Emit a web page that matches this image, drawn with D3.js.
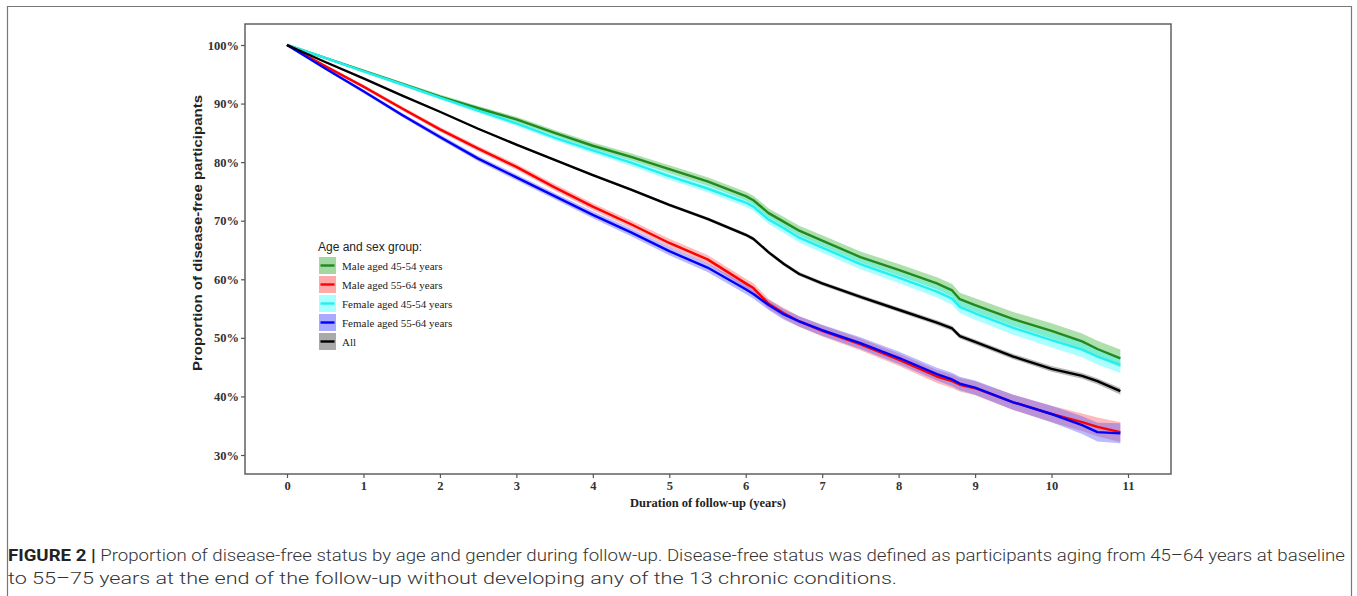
<!DOCTYPE html>
<html>
<head>
<meta charset="utf-8">
<script src="https://cdn.jsdelivr.net/npm/d3@7"></script>
<style>
  html, body { margin: 0; padding: 0; background: #fff; }
  svg { display: block; }
</style>
</head>
<body>
<svg id="chart" width="1357" height="596"></svg>
<script>
// ---------- DATA ----------
const years = [0, 0.5, 1, 1.5, 2, 2.5, 3, 3.5, 4, 4.5, 5, 5.5, 6, 6.1, 6.3, 6.5, 6.7, 7, 7.5, 8, 8.5, 8.7, 8.8, 9, 9.5, 10, 10.4, 10.6, 10.9];

const male4554   = [100, 97.8, 95.6, 93.4, 91.2, 89.2, 87.3, 85.0, 82.8, 80.9, 78.8, 76.7, 74.2, 73.5, 71.3, 69.8, 68.3, 66.6, 63.8, 61.6, 59.3, 58.1, 56.6, 55.6, 53.2, 51.2, 49.4, 48.1, 46.5];
const male5564   = [100, 96.4, 92.9, 89.2, 85.6, 82.3, 79.2, 75.7, 72.4, 69.4, 66.2, 63.4, 59.3, 58.5, 55.8, 54.2, 52.8, 51.2, 48.9, 46.3, 43.4, 42.6, 42.0, 41.4, 39.0, 37.0, 35.6, 34.8, 33.9];
const female4554 = [100, 97.8, 95.5, 93.3, 91.0, 88.8, 86.6, 84.2, 82.0, 79.9, 77.6, 75.5, 73.1, 72.4, 70.2, 68.7, 67.1, 65.4, 62.6, 60.3, 57.9, 56.7, 55.3, 54.2, 51.7, 49.6, 48.0, 46.8, 45.4];
const female5564 = [100, 96.0, 92.1, 88.1, 84.3, 80.6, 77.4, 74.2, 71.0, 68.0, 64.8, 62.0, 58.3, 57.5, 55.6, 54.0, 52.8, 51.3, 49.1, 46.6, 43.8, 42.9, 42.2, 41.5, 39.0, 37.0, 35.1, 33.9, 33.7];
const allGroups  = [100, 97.1, 94.3, 91.4, 88.6, 85.7, 83.0, 80.4, 77.8, 75.3, 72.7, 70.3, 67.6, 66.9, 64.6, 62.6, 60.9, 59.3, 57.0, 54.8, 52.6, 51.6, 50.3, 49.3, 46.8, 44.7, 43.5, 42.6, 40.9];

// confidence half-widths (percentage points)
const ciMale4554   = [0, 0.15, 0.25, 0.3, 0.35, 0.4, 0.45, 0.5, 0.55, 0.6, 0.65, 0.7, 0.75, 0.77, 0.8, 0.85, 0.85, 0.9, 0.95, 1.0, 1.05, 1.1, 1.1, 1.15, 1.2, 1.3, 1.35, 1.4, 1.5];
const ciMale5564   = [0, 0.2, 0.3, 0.35, 0.4, 0.45, 0.5, 0.55, 0.6, 0.65, 0.7, 0.75, 0.8, 0.82, 0.85, 0.9, 0.9, 0.95, 1.0, 1.05, 1.1, 1.15, 1.15, 1.2, 1.3, 1.4, 1.5, 1.6, 1.7];
const ciFemale4554 = [0, 0.12, 0.2, 0.25, 0.3, 0.35, 0.4, 0.45, 0.5, 0.55, 0.6, 0.65, 0.7, 0.72, 0.75, 0.8, 0.8, 0.85, 0.9, 0.95, 1.0, 1.05, 1.05, 1.1, 1.15, 1.25, 1.3, 1.35, 1.4];
const ciFemale5564 = [0, 0.2, 0.3, 0.35, 0.4, 0.45, 0.5, 0.55, 0.6, 0.65, 0.7, 0.75, 0.8, 0.82, 0.85, 0.9, 0.9, 0.95, 1.0, 1.05, 1.1, 1.15, 1.15, 1.2, 1.3, 1.4, 1.5, 1.6, 1.7];
const ciAll        = [0, 0.08, 0.1, 0.12, 0.14, 0.16, 0.18, 0.2, 0.22, 0.24, 0.26, 0.28, 0.3, 0.3, 0.31, 0.32, 0.33, 0.34, 0.36, 0.38, 0.4, 0.41, 0.42, 0.43, 0.45, 0.48, 0.5, 0.52, 0.55];

const groupNames = ["Male aged 45-54 years", "Male aged 55-64 years", "Female aged 45-54 years", "Female aged 55-64 years", "All"];
const xTicks = [0, 1, 2, 3, 4, 5, 6, 7, 8, 9, 10, 11];
const yTicks = [30, 40, 50, 60, 70, 80, 90, 100];
const legendTitle = "Age and sex group:";
const xTitle = "Duration of follow-up (years)";
const yTitle = "Proportion of disease-free participants";
const captionBold = "FIGURE 2 |";
const captionLine1 = " Proportion of disease-free status by age and gender during follow-up. Disease-free status was defined as participants aging from 45\u201364 years at baseline";
const captionLine2 = "to 55\u201375 years at the end of the follow-up without developing any of the 13 chronic conditions.";

// ---------- STYLE ----------
const seriesValues = [male4554, male5564, female4554, female5564, allGroups];
const seriesCI = [ciMale4554, ciMale5564, ciFemale4554, ciFemale5564, ciAll];
const lineColors = ["#1f8a1f", "#ff0000", "#22f0f0", "#0000ff", "#000000"];
const bandColors = ["#3cb43c", "#ff5a5a", "#3cffff", "#5a5aff", "#555555"];
const keyColors  = ["#a3d8a3", "#ffaaaa", "#a8ffff", "#aaaaff", "#aaaaaa"];

const svg = d3.select("#chart");

// outer figure frame
svg.append("path")
  .attr("d", "M7.5,600 L7.5,6.5 L1351.5,6.5 L1351.5,600")
  .attr("fill", "none").attr("stroke", "#777").attr("stroke-width", 1.2);

const plotL = 245, plotR = 1171, plotT = 24, plotB = 474;
const x0px = 287, x11px = 1128;
const pxPerYear = (x11px - x0px) / 11;
const x = d3.scaleLinear()
  .domain([(plotL - x0px) / pxPerYear, 11 + (plotR - x11px) / pxPerYear])
  .range([plotL, plotR]);
const y100 = 45, y30 = 455;
const pxPerPct = (y30 - y100) / 70;
const y = d3.scaleLinear()
  .domain([30 - (plotB - y30) / pxPerPct, 100 + (y100 - plotT) / pxPerPct])
  .range([plotB, plotT]);

const g = svg.append("g");

// bands
seriesValues.forEach((vals, i) => {
  const pts = years.map((t, k) => ({t, v: vals[k], c: seriesCI[i][k]}));
  const area = d3.area().x(d => x(d.t)).y0(d => y(d.v - d.c)).y1(d => y(d.v + d.c));
  g.append("path").datum(pts).attr("d", area)
    .attr("fill", bandColors[i]).attr("fill-opacity", 0.42).attr("stroke", "none");
});
// lines
const drawOrder = [0, 2, 1, 3, 4];
drawOrder.forEach(i => {
  const pts = years.map((t, k) => ({t, v: seriesValues[i][k]}));
  const line = d3.line().x(d => x(d.t)).y(d => y(d.v));
  g.append("path").datum(pts).attr("d", line)
    .attr("fill", "none").attr("stroke", lineColors[i]).attr("stroke-width", 2.4)
    .attr("stroke-linejoin", "round");
});

// panel box
svg.append("rect")
  .attr("x", plotL).attr("y", plotT).attr("width", plotR - plotL).attr("height", plotB - plotT)
  .attr("fill", "none").attr("stroke", "#555").attr("stroke-width", 1.4);

// axes
const xAxis = d3.axisBottom(x).tickValues(xTicks).tickSize(4).tickSizeOuter(0).tickPadding(3);
const yAxis = d3.axisLeft(y).tickValues(yTicks).tickSize(4).tickSizeOuter(0).tickPadding(2)
  .tickFormat(d => d + "%");
const gx = svg.append("g").attr("transform", `translate(0,${plotB})`).call(xAxis);
const gy = svg.append("g").attr("transform", `translate(${plotL},0)`).call(yAxis);
[gx, gy].forEach(a => {
  a.select(".domain").remove();
  a.selectAll(".tick line").attr("stroke", "#555").attr("stroke-width", 1.2);
  a.selectAll(".tick text")
    .attr("font-family", "'Liberation Serif', 'Times New Roman', serif")
    .attr("font-weight", "bold").attr("font-size", 12.5).attr("fill", "#333");
});

// axis titles
svg.append("text").attr("x", (plotL + plotR) / 2).attr("y", 507)
  .attr("text-anchor", "middle")
  .attr("font-family", "'Liberation Serif', 'Times New Roman', serif")
  .attr("font-weight", "bold").attr("font-size", 12.5).attr("fill", "#222")
  .text(xTitle);
svg.append("text")
  .attr("transform", `translate(202,${(plotT + plotB) / 2 - 16}) rotate(-90)`)
  .attr("text-anchor", "middle")
  .attr("font-family", "'Liberation Sans', Arial, sans-serif")
  .attr("font-weight", "bold").attr("font-size", 13).attr("fill", "#222")
  .attr("textLength", 276).attr("lengthAdjust", "spacingAndGlyphs")
  .text(yTitle);

// legend
const lg = svg.append("g");
lg.append("text").attr("x", 318).attr("y", 251)
  .attr("font-family", "'Liberation Sans', Arial, sans-serif")
  .attr("font-size", 12).attr("fill", "#222").text(legendTitle);
groupNames.forEach((name, i) => {
  const top = 257 + i * 19;
  lg.append("rect").attr("x", 319).attr("y", top).attr("width", 17).attr("height", 17)
    .attr("fill", keyColors[i]);
  lg.append("line").attr("x1", 320.5).attr("x2", 334.5).attr("y1", top + 8.5).attr("y2", top + 8.5)
    .attr("stroke", lineColors[i]).attr("stroke-width", 2.4);
  lg.append("text").attr("x", 342).attr("y", top + 12.5)
    .attr("font-family", "'Liberation Serif', 'Times New Roman', serif")
    .attr("font-size", 11).attr("fill", "#222").text(name);
});

// caption
const capFont = "'Liberation Sans Narrow', 'Roboto', 'Liberation Sans', sans-serif";
const cap1 = svg.append("text").attr("x", 8).attr("y", 561)
  .attr("font-family", capFont).attr("font-weight", 300)
  .attr("font-size", 16).attr("fill", "#333");
cap1.append("tspan").attr("font-weight", "bold").attr("fill", "#222").text(captionBold);
cap1.append("tspan").text(captionLine1);
const cap2 = svg.append("text").attr("x", 8).attr("y", 584)
  .attr("font-family", capFont).attr("font-weight", 300)
  .attr("font-size", 16).attr("fill", "#333").text(captionLine2);
// fit caption widths to reference
[[cap1, 1337], [cap2, 889]].forEach(([t, w]) => {
  const len = t.node().getComputedTextLength();
  if (Math.abs(len - w) > 2) t.attr("textLength", w).attr("lengthAdjust", "spacingAndGlyphs");
});
</script>
</body>
</html>
